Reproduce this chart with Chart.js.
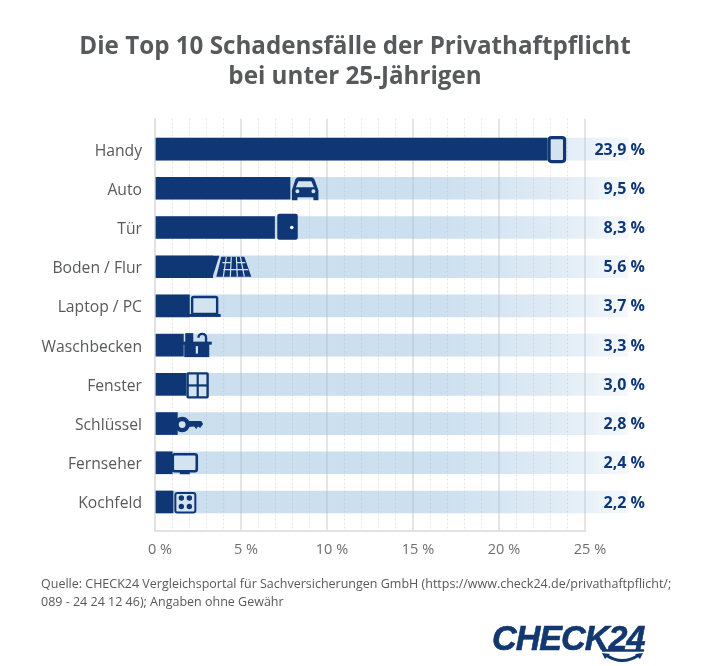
<!DOCTYPE html>
<html lang="de">
<head>
<meta charset="utf-8">
<title>Top 10 Schadensfälle</title>
<script src="https://cdn.jsdelivr.net/npm/chart.js@4"></script>
<style>
  html, body { margin: 0; padding: 0; background: #fff; }
  #wrap { position: relative; width: 710px; height: 666px; overflow: hidden; }
  #quelle { position: absolute; left: 41px; top: 574.5px; width: 640px; font: 12.5px/18.5px "Open Sans", sans-serif; color: #58595b; white-space: nowrap; }
  #logo { position: absolute; left: 490px; top: 616px; width: 160px; height: 50px; }
  #logo span { position: absolute; left: 2px; top: 1px; font: italic bold 35px/42px "Liberation Sans", sans-serif; color: #12386f; letter-spacing: -1px; -webkit-text-stroke: 0.6px #12386f; transform-origin: left top; transform: scaleX(0.975); }
  #logo svg { position: absolute; left: 0; top: 0; }
</style>
</head>
<body>
<div id="wrap">
  <canvas id="myChart" width="710" height="666"></canvas>
  <div id="quelle">Quelle: CHECK24 Vergleichsportal für Sachversicherungen GmbH (https://www.check24.de/privathaftpflicht/;<br>089 - 24 24 12 46); Angaben ohne Gewähr</div>
  <div id="logo">
    <span>CHECK24</span>
    <svg width="160" height="50" viewBox="0 0 160 50">
      <path d="M 112 34.5 L 154 34.5" stroke="#12386f" stroke-width="2.5" fill="none"/>
      <path d="M 116 39 Q 132 50 149 39" stroke="#12386f" stroke-width="3" fill="none"/>
      <path d="M 112 37 L 120 38 L 115 43 Z M 153 37 L 145 38 L 150 43 Z" fill="#12386f"/>
    </svg>
  </div>
</div>

<script>
const kategorien = ["Handy", "Auto", "Tür", "Boden / Flur", "Laptop / PC", "Waschbecken", "Fenster", "Schlüssel", "Fernseher", "Kochfeld"];
const anteile = [23.9, 9.5, 8.3, 5.6, 3.7, 3.3, 3.0, 2.8, 2.4, 2.2];
// the dark part stops where the icon starts
const balkenEnde = [22.8, 7.85, 6.95, 3.35, 2.0, 1.65, 1.8, 1.3, 1.0, 1.05];
const spurEnde = [27.5, 27.5, 27.5, 27.5, 27.5, 27.5, 27.5, 27.5, 27.5, 27.5];
const achsenWerte = [0, 5, 10, 15, 20, 25];

const dunkel = "#0f3775";
const hell = "#d3e3f0";
const grau = "#58595b";

function rund(ctx, x, y, w, h, r) {
    ctx.beginPath();
    ctx.roundRect(x, y, w, h, r);
}

function rahmen(ctx, x, y, w, h, r, dicke) {
    rund(ctx, x, y, w, h, r);
    ctx.fillStyle = hell;
    ctx.fill();
    ctx.lineWidth = dicke;
    ctx.strokeStyle = dunkel;
    ctx.stroke();
}

// one drawing function per row, r = right end of the value, c = row center
const icons = [
    function handy(ctx, r, c) {
        rahmen(ctx, r - 17, c - 11.5, 15.5, 24, 2.5, 3.2);
    },
    function auto(ctx, r, c) {
        ctx.fillStyle = dunkel;
        ctx.beginPath();
        ctx.moveTo(r - 26.5, c + 12);
        ctx.lineTo(r - 26.5, c + 2);
        ctx.lineTo(r - 23, c - 9);
        ctx.quadraticCurveTo(r - 22, c - 11, r - 20, c - 11);
        ctx.lineTo(r - 7, c - 11);
        ctx.quadraticCurveTo(r - 5, c - 11, r - 4, c - 9);
        ctx.lineTo(r, c + 2);
        ctx.lineTo(r, c + 12);
        ctx.lineTo(r - 5, c + 12);
        ctx.lineTo(r - 5, c + 9);
        ctx.lineTo(r - 21, c + 9);
        ctx.lineTo(r - 21, c + 12);
        ctx.closePath();
        ctx.fill();
        ctx.fillStyle = hell;
        ctx.beginPath();
        ctx.moveTo(r - 20, c - 7);
        ctx.lineTo(r - 7, c - 7);
        ctx.lineTo(r - 4.5, c - 1);
        ctx.lineTo(r - 22.5, c - 1);
        ctx.closePath();
        ctx.fill();
        ctx.beginPath();
        ctx.arc(r - 21, c + 3, 2, 0, Math.PI * 2);
        ctx.arc(r - 5, c + 3, 2, 0, Math.PI * 2);
        ctx.fill();
    },
    function tuer(ctx, r, c) {
        ctx.fillStyle = dunkel;
        rund(ctx, r - 20.5, c - 13.7, 20.5, 26, 2);
        ctx.fill();
        ctx.fillStyle = "#fff";
        ctx.beginPath();
        ctx.arc(r - 6, c, 1.8, 0, Math.PI * 2);
        ctx.fill();
    },
    function boden(ctx, r, c) {
        // slanted end of the bar
        ctx.fillStyle = dunkel;
        ctx.beginPath();
        ctx.moveTo(r - 39, c - 11);
        ctx.lineTo(r - 32, c - 11);
        ctx.lineTo(r - 39, c + 11);
        ctx.closePath();
        ctx.fill();
        ctx.beginPath();
        ctx.moveTo(r - 30, c - 10);
        ctx.lineTo(r - 7, c - 10);
        ctx.lineTo(r, c + 10);
        ctx.lineTo(r - 35, c + 10);
        ctx.closePath();
        ctx.fill();
        ctx.strokeStyle = hell;
        ctx.lineWidth = 1.2;
        ctx.beginPath();
        [[-25, -28], [-20, -21], [-15, -14], [-11, -7]].forEach(function (l) {
            ctx.moveTo(r + l[0], c - 10);
            ctx.lineTo(r + l[1], c + 10);
        });
        ctx.moveTo(r - 29, c - 4);
        ctx.lineTo(r - 20, c - 4);
        ctx.moveTo(r - 15, c - 4);
        ctx.lineTo(r - 6, c - 4);
        ctx.moveTo(r - 28, c + 3);
        ctx.lineTo(r - 3, c + 3);
        ctx.stroke();
    },
    function laptop(ctx, r, c) {
        rahmen(ctx, r - 26.5, c - 9, 25, 17, 1.5, 2.4);
        ctx.fillStyle = dunkel;
        ctx.fillRect(r - 31, c + 8, 33, 3);
    },
    function waschbecken(ctx, r, c) {
        ctx.fillStyle = dunkel;
        ctx.fillRect(r - 27.5, c - 3, 25, 15);
        ctx.fillRect(r - 32, c - 3.5, 32, 3);
        ctx.fillRect(r - 26.5, c - 12, 8, 9);
        ctx.strokeStyle = dunkel;
        ctx.lineWidth = 2.4;
        ctx.beginPath();
        ctx.arc(r - 9.5, c - 7.5, 3.8, Math.PI, 0);
        ctx.moveTo(r - 5.7, c - 7.5);
        ctx.lineTo(r - 5.7, c - 3);
        ctx.stroke();
        ctx.fillStyle = hell;
        ctx.fillRect(r - 16, c + 1, 2.2, 7.5);
    },
    function fenster(ctx, r, c) {
        rahmen(ctx, r - 19, c - 11, 20, 24, 0.5, 2.4);
        ctx.fillStyle = dunkel;
        ctx.fillRect(r - 10, c - 11, 2.2, 24);
        ctx.fillRect(r - 19, c, 20, 2.2);
    },
    function schluessel(ctx, r, c) {
        ctx.strokeStyle = dunkel;
        ctx.lineWidth = 4.4;
        ctx.fillStyle = hell;
        ctx.beginPath();
        ctx.arc(r - 21, c + 1, 5.6, 0, Math.PI * 2);
        ctx.fill();
        ctx.stroke();
        ctx.fillStyle = dunkel;
        ctx.beginPath();
        ctx.moveTo(r - 15, c - 2.5);
        ctx.lineTo(r - 2, c - 2.5);
        ctx.lineTo(r, c + 0.5);
        ctx.lineTo(r - 3, c + 4.5);
        ctx.lineTo(r - 5, c + 3);
        ctx.lineTo(r - 7, c + 5.5);
        ctx.lineTo(r - 9, c + 3);
        ctx.lineTo(r - 15, c + 3.5);
        ctx.closePath();
        ctx.fill();
    },
    function fernseher(ctx, r, c) {
        rahmen(ctx, r - 23.5, c - 8.5, 24, 17, 2, 2.6);
        ctx.fillStyle = dunkel;
        ctx.fillRect(r - 16.5, c + 8.5, 10, 3);
    },
    function kochfeld(ctx, r, c) {
        rahmen(ctx, r - 17.5, c - 9, 20, 19.5, 2, 2);
        ctx.fillStyle = dunkel;
        [[-11.5, -4], [-3.5, -4], [-11.5, 4.5], [-3.5, 4.5]].forEach(function (p) {
            ctx.beginPath();
            ctx.arc(r + p[0], c + p[1], 2.7, 0, Math.PI * 2);
            ctx.fill();
        });
    }
];

const iconPlugin = {
    id: "icons",
    afterDatasetsDraw(chart) {
        const ctx = chart.ctx;
        const xs = chart.scales.x;
        const ys = chart.scales.y;
        ctx.save();
        anteile.forEach(function (wert, i) {
            const r = xs.getPixelForValue(wert);
            const c = ys.getPixelForValue(i);
            icons[i](ctx, r, c);
            ctx.font = "bold 16px 'Open Sans', sans-serif";
            ctx.fillStyle = dunkel;
            ctx.textAlign = "right";
            ctx.textBaseline = "middle";
            ctx.fillText(wert.toFixed(1).replace(".", ",") + " %", 645, c + 1);
        });
        ctx.restore();
    }
};

function spurFarbe(context) {
    const area = context.chart.chartArea;
    if (!area) {
        return hell;
    }
    const g = context.chart.ctx.createLinearGradient(155, 0, 628, 0);
    g.addColorStop(0, "rgba(150,190,222,0.5)");
    g.addColorStop(0.6, "rgba(150,190,222,0.48)");
    g.addColorStop(0.85, "rgba(150,190,222,0.3)");
    g.addColorStop(1, "rgba(150,190,222,0.1)");
    return g;
}

const zeilen = (werte) => werte.map((wert, i) => ({ x: wert, y: i }));

new Chart("myChart", {
    type: "bar",
    data: {
        datasets: [
            { data: zeilen(balkenEnde), backgroundColor: dunkel, barThickness: 22, grouped: false, clip: false },
            { data: zeilen(spurEnde), backgroundColor: spurFarbe, barThickness: 22, grouped: false, clip: false }
        ]
    },
    plugins: [iconPlugin],
    options: {
        indexAxis: "y",
        responsive: false,
        animation: false,
        layout: { padding: { left: 0, right: 0, top: 0, bottom: 96 } },
        plugins: {
            legend: { display: false },
            tooltip: { enabled: false },
            title: {
                display: true,
                text: ["Die Top 10 Schadensfälle der Privathaftpflicht", "bei unter 25-Jährigen"],
                color: grau,
                font: { family: "'Open Sans', sans-serif", size: 24.2, weight: "bold", lineHeight: 1.25 },
                padding: { top: 32, bottom: 26 }
            }
        },
        scales: {
            x: {
                type: "linear",
                min: 0,
                max: 25,
                grid: {
                    drawTicks: false,
                    color: "#e6e6e6",
                    lineWidth: (c) => c.tick.value % 5 === 0 ? 2 : 1
                },
                border: {
                    display: true,
                    color: "#e2e2e2",
                    width: 2,
                    dash: (c) => c.tick && c.tick.value % 5 !== 0 ? [2, 2] : []
                },
                ticks: {
                    stepSize: 1,
                    autoSkip: false,
                    maxRotation: 0,
                    padding: 11,
                    labelOffset: 5,
                    color: "#6d6e70",
                    font: { family: "'Open Sans', sans-serif", size: 14.5 },
                    callback: (v) => achsenWerte.includes(v) ? v + " %" : ""
                }
            },
            y: {
                type: "linear",
                offset: false,
                reverse: true,
                min: -0.78,
                max: 9.73,
                afterFit(scale) { scale.width = 155; },
                afterBuildTicks(scale) { scale.ticks = kategorien.map((_, i) => ({ value: i })); },
                grid: { display: false },
                border: { display: true, color: "#e2e2e2", width: 2 },
                ticks: {
                    padding: 5,
                    labelOffset: 2,
                    color: grau,
                    font: { family: "'Open Sans', sans-serif", size: 15.7 },
                    callback: (v) => kategorien[v]
                }
            },
            // empty axis, keeps the room for the value labels on the right
            rand: {
                type: "linear",
                position: "right",
                afterFit(scale) { scale.width = 125; },
                grid: { display: false },
                border: { display: false },
                ticks: { display: false }
            }
        }
    }
});
</script>
</body>
</html>
